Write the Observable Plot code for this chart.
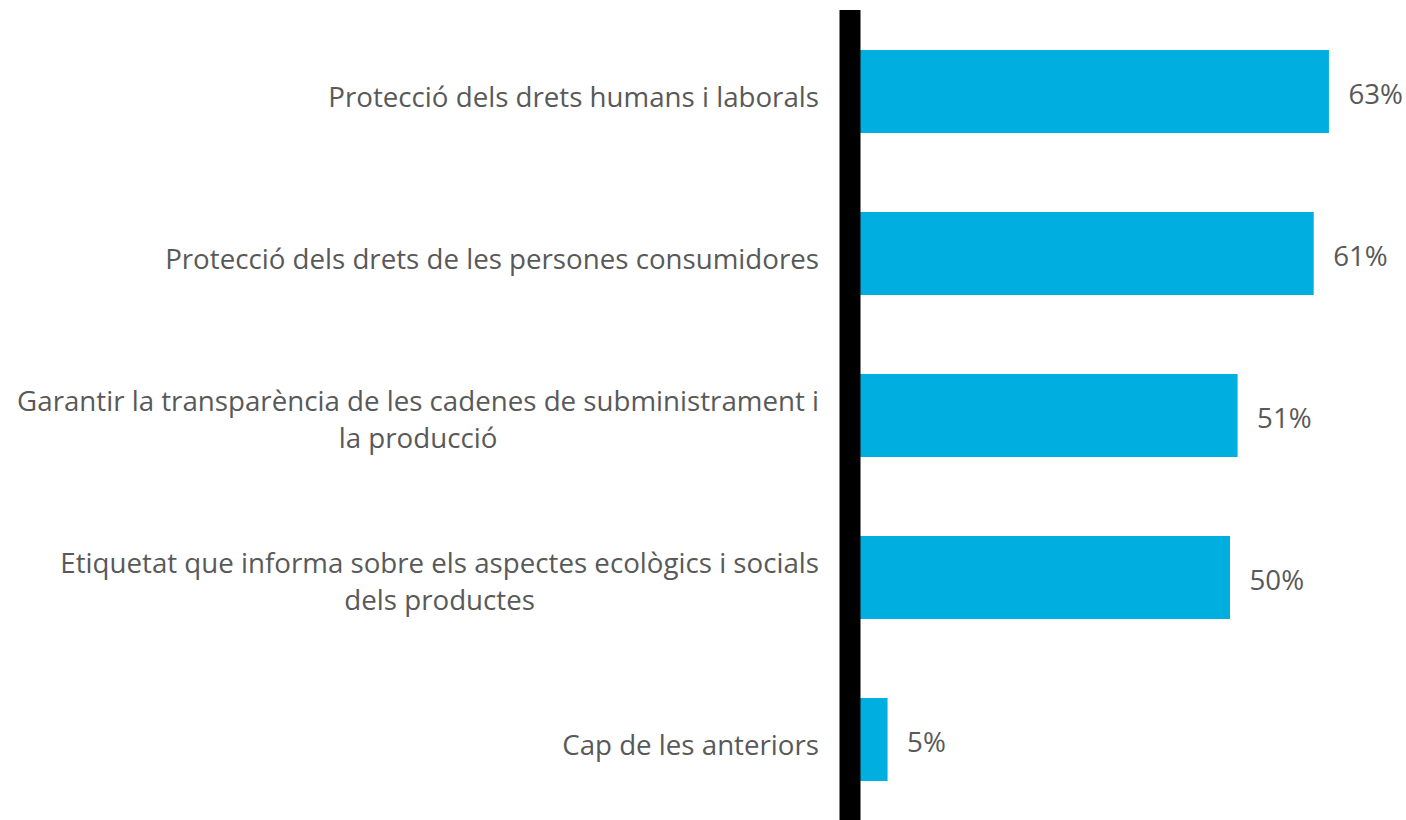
<!DOCTYPE html>
<html>
<head>
<meta charset="utf-8">
<script src="https://cdn.jsdelivr.net/npm/d3@7"></script>
<script src="https://cdn.jsdelivr.net/npm/@observablehq/plot@0.6"></script>
<style>
  html, body { margin: 0; padding: 0; background: #fff; }
  #chart { width: 1406px; height: 820px; overflow: hidden; }
</style>
</head>
<body>
<div id="chart"></div>
<script>
const categories = [
  "Protecció dels drets humans i laborals",
  "Protecció dels drets de les persones consumidores",
  "Garantir la transparència de les cadenes de subministrament i\nla producció",
  "Etiquetat que informa sobre els aspectes ecològics i socials\ndels productes",
  "Cap de les anteriors"
];
const values = [63, 61, 51, 50, 5];
const valueLabels = ["63%", "61%", "51%", "50%", "5%"];

const data = categories.map((c, i) => ({cat: c, value: values[i], label: valueLabels[i]}));

const FONT = "Open Sans";
const FS = 27.7;
const textColor = "#595959";

const ctx = document.createElement("canvas").getContext("2d");
ctx.font = `${FS}px "${FONT}"`;
const labelRight = -31; // offset from axis
function labelDx(c) {
  const lines = c.split("\n");
  if (lines.length === 1) return labelRight;
  const w = ctx.measureText(lines[0]).width;
  return labelRight - w / 2;
}

const plot = Plot.plot({
  width: 1406,
  height: 820,
  marginLeft: 849.5,
  marginRight: 1406 - 849.5 - 63 * 7.61,
  marginTop: 10,
  marginBottom: -1,
  style: {fontFamily: FONT, fontSize: FS + "px", color: textColor, background: "#fff"},
  x: {domain: [0, 63], axis: null},
  y: {domain: categories, axis: null, paddingInner: 0.49, paddingOuter: 0.245},
  marks: [
    Plot.barX(data, {x: "value", y: "cat", fill: "#00AEE0"}),
    Plot.ruleX([0], {stroke: "#000", strokeWidth: 21}),
    Plot.text(data.filter(d => !d.cat.includes("\n")), {
      x: 0, y: "cat", text: "cat", textAnchor: "end", dx: labelRight, dy: 3,
      fill: textColor, fontSize: FS, lineHeight: 1.33
    }),
    ...data.filter(d => d.cat.includes("\n")).map(d =>
      Plot.text([d], {
        x: 0, y: "cat", text: "cat", textAnchor: "middle", dx: labelDx(d.cat), dy: 2,
        fill: textColor, fontSize: FS, lineHeight: 1.33
      })
    ),
    Plot.text(data, {
      x: "value", y: "cat", text: "label", textAnchor: "start", dx: 19, dy: 3,
      fill: textColor, fontSize: FS
    })
  ]
});
document.getElementById("chart").appendChild(plot);
</script>
</body>
</html>
